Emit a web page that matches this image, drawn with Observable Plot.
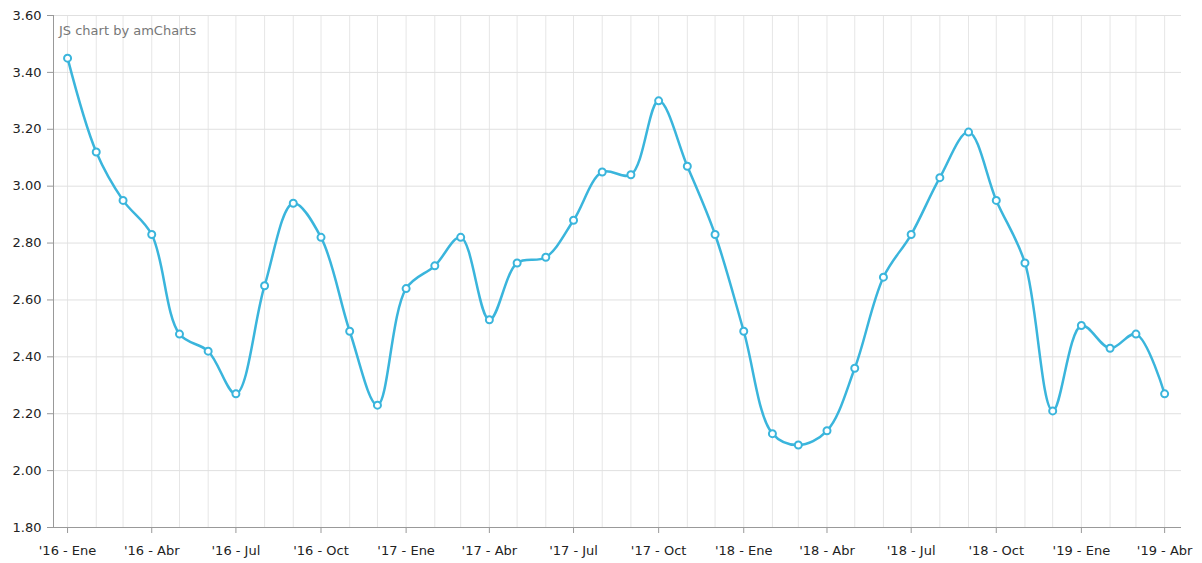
<!DOCTYPE html>
<html>
<head>
<meta charset="utf-8">
<script src="https://cdn.jsdelivr.net/npm/d3@7"></script>
<script src="https://cdn.jsdelivr.net/npm/@observablehq/plot@0.6"></script>
<style>
  html, body { margin: 0; padding: 0; background: #fff; }
  #chart { position: relative; width: 1202px; height: 563px; }
  #credit { position: absolute; left: 59px; top: 23px; font: 13px "DejaVu Sans", Verdana, sans-serif; color: #777; }
</style>
</head>
<body>
<div id="chart"><div id="credit">JS chart by amCharts</div></div>
<script>
const startYear = 2016;
const values = [
  3.45, 3.12, 2.95, 2.83, 2.48, 2.42, 2.27, 2.65, 2.94, 2.82, 2.49, 2.23,
  2.64, 2.72, 2.82, 2.53, 2.73, 2.75, 2.88, 3.05, 3.04, 3.30, 3.07, 2.83,
  2.49, 2.13, 2.09, 2.14, 2.36, 2.68, 2.83, 3.03, 3.19, 2.95, 2.73, 2.21,
  2.51, 2.43, 2.48, 2.27
];
const monthNames = ["Ene", "Abr", "Jul", "Oct"];
const yTicks = [1.8, 2.0, 2.2, 2.4, 2.6, 2.8, 3.0, 3.2, 3.4, 3.6];

const data = values.map((v, i) => ({ date: new Date(startYear, i, 1), value: v }));
const allMonths = data.map(d => d.date);
const quarterTicks = allMonths.filter(d => d.getMonth() % 3 === 0);
const fmtX = d => "'" + String(d.getFullYear()).slice(2) + " - " + monthNames[d.getMonth() / 3];

const x0 = new Date(startYear, 0, 1);
const xLast = allMonths[allMonths.length - 1];
const monthMs = 30.4 * 24 * 3600 * 1000;
const domainX = [new Date(+x0 - 0.5 * monthMs), new Date(+xLast + 0.6 * monthMs)];

const color = "#3ab5dc";
const font = '"DejaVu Sans", Verdana, sans-serif';

const chart = Plot.plot({
  width: 1202,
  height: 563,
  marginLeft: 53,
  marginRight: 21,
  marginTop: 15,
  marginBottom: 36,
  style: { fontFamily: font, fontSize: "13px", color: "#333", background: "#fff" },
  x: { type: "time", domain: domainX, label: null },
  y: { domain: [1.8, 3.6], label: null },
  marks: [
    Plot.gridX(allMonths, { stroke: "#e6e6e6", strokeOpacity: 1 }),
    Plot.gridY(yTicks, { stroke: "#e0e0e0", strokeOpacity: 1 }),
    Plot.axisY({ ticks: yTicks, tickFormat: d => d.toFixed(2), tickSize: 6, tickPadding: 6, stroke: "#999", fontSize: 13, fill: "#222", label: null }),
    Plot.axisX({ ticks: quarterTicks, tickFormat: fmtX, tickSize: 6, tickPadding: 12, stroke: "#999", fontSize: 13, fill: "#222", label: null }),
    Plot.ruleY([1.8], { stroke: "#999" }),
    Plot.ruleX([domainX[0]], { stroke: "#999" }),
    Plot.line(data, { x: "date", y: "value", stroke: color, strokeWidth: 2.5, curve: "catmull-rom" }),
    Plot.dot(data, { x: "date", y: "value", r: 3.5, fill: "#fff", stroke: color, strokeWidth: 2 })
  ]
});
document.getElementById("chart").prepend(chart);
chart.style.position = "absolute";
chart.style.left = "0";
chart.style.top = "0";
document.getElementById("credit").style.zIndex = 2;
</script>
</body>
</html>
